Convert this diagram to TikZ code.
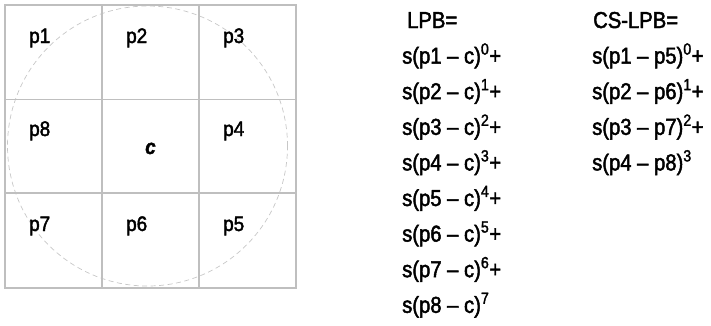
\documentclass[tikz,border=0pt]{standalone}
\usepackage{fontspec}
\setmainfont{Liberation Sans}[FakeStretch=0.9, FakeBold=2]
\newfontfamily\termfont{Liberation Sans}[FakeStretch=0.88, FakeBold=2]

\begin{document}
\begin{tikzpicture}[
    x=1pt, y=-1pt,
    font=\fontsize{21}{25}\selectfont,
    gridline/.style={draw=black!25, line width=1.9pt},
    ringline/.style={draw=black!22, line width=0.7pt, dash pattern=on 5pt off 3.5pt},
    cellname/.style={anchor=base west, inner sep=0pt},
    sumterm/.style={anchor=base west, inner sep=0pt, font=\termfont\fontsize{23}{27}\selectfont}
]
\useasboundingbox (0,0) rectangle (711,325);

% circular neighbourhood and 3x3 grid
\draw[ringline] (147.5,146) circle[radius=140pt];
\draw[gridline] (5,5) rectangle (296,288);
\draw[gridline] (102,5) -- (102,288) (199,5) -- (199,288);
\draw[gridline] (5,99.5) -- (296,99.5) (5,193) -- (296,193);

\node[cellname] (p1) at (29,43) {p1};
\node[cellname] (p2) at (126,43) {p2};
\node[cellname] (p3) at (223,43) {p3};
\node[cellname] (p8) at (29,136) {p8};
\node[cellname, font=\fontsize{21}{25}\selectfont\bfseries\itshape] (c) at (145,154) {c};
\node[cellname] (p4) at (223,136) {p4};
\node[cellname] (p7) at (29,231) {p7};
\node[cellname] (p6) at (126,231) {p6};
\node[cellname] (p5) at (223,231) {p5};

% LPB sum
\node[sumterm] (lpb) at (407,28) {LPB=};
\foreach \i [evaluate=\i as \e using int(\i-1)] in {1,...,7}
    \node[sumterm] (lpb\i) at (402,28+35.6*\i) {s(p\i{} – c)\textsuperscript{\e}+};
\node[sumterm] (lpb8) at (402,28+35.6*8) {s(p8 – c)\textsuperscript{7}};

% CS-LPB sum
\node[sumterm] (cs) at (593,28) {CS-LPB=};
\foreach \i [evaluate=\i as \j using int(\i+4), evaluate=\i as \e using int(\i-1)] in {1,2,3}
    \node[sumterm] (cs\i) at (592,28+35.6*\i) {s(p\i{} – p\j)\textsuperscript{\e}+};
\node[sumterm] (cs4) at (592,28+35.6*4) {s(p4 – p8)\textsuperscript{3}};

\end{tikzpicture}
\end{document}
